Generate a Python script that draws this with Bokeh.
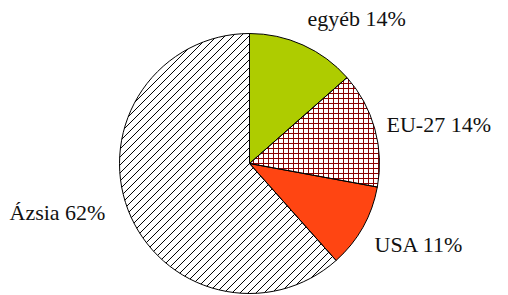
import math
from bokeh.plotting import figure
from bokeh.models import Range1d, Label
from bokeh.embed import file_html
from bokeh.resources import INLINE

# data (clockwise from 12 o'clock)
categories = ["egyéb", "EU-27", "USA", "Ázsia"]
shares = [13.5, 14.4, 10.5, 61.6]
labels = ["egyéb 14%", "EU-27 14%", "USA 11%", "Ázsia 62%"]

# styling
fills = ["#AECC00", "white", "#FF4512", "white"]
hatches = [" ", "+", " ", " "]
hatch_colors = ["black", "#8B0000", "black", "black"]
hatch_scales = [8, 5, 8, 8]
diag_index = 3          # slice drawn with 45-degree "/" hatching
diag_step = 8           # spacing of the diagonal hatch lines (px)

# layout (page pixel coordinates -> data: y up)
W, H = 508, 295
cx, cy, r = 249, H - 163, 130
label_x = [307, 386, 374, 9]
label_y = [H - 18, H - 124, H - 244, H - 212]

total = sum(shares)
starts, ends = [], []
cum = 0.0
for s in shares:
    a0 = math.pi / 2 - 2 * math.pi * cum / total
    cum += s
    a1 = math.pi / 2 - 2 * math.pi * cum / total
    starts.append(a0)
    ends.append(a1)

p = figure(width=W, height=H, output_backend="svg", toolbar_location=None,
           x_range=Range1d(0, W), y_range=Range1d(0, H), min_border=0)
p.axis.visible = False
p.grid.visible = False
p.outline_line_color = None
p.background_fill_color = "white"

# fills
for i in range(len(shares)):
    p.wedge(x=cx, y=cy, radius=r, start_angle=starts[i], end_angle=ends[i],
            direction="clock", fill_color=fills[i], line_color=None,
            hatch_pattern=hatches[i], hatch_color=hatch_colors[i],
            hatch_scale=hatch_scales[i], hatch_weight=1)

# 45-degree hatch for the large slice: chords of the circle minus the
# (convex) complementary sector made of the other slices
t1 = starts[diag_index]
t2 = ends[diag_index] + 2 * math.pi
d1 = (math.cos(t1), math.sin(t1))
d2 = (math.cos(t2), math.sin(t2))
x0s, y0s, x1s, y1s = [], [], [], []


def half(a, b):
    # interval of u with a*u + b >= 0
    if abs(a) < 1e-12:
        return (-1e9, 1e9) if b >= 0 else (1e9, -1e9)
    return (-b / a, 1e9) if a > 0 else (-1e9, -b / a)


kmax = int(math.sqrt(2) * r / diag_step) + 1
for j in range(-kmax, kmax + 1):
    k = j * diag_step
    disc = 2 * r * r - k * k
    if disc <= 0:
        continue
    ua = (-k - math.sqrt(disc)) / 2
    ub = (-k + math.sqrt(disc)) / 2
    h1 = half(d1[0] - d1[1], d1[0] * k)
    h2 = half(d2[1] - d2[0], -k * d2[0])
    lo = max(ua, h1[0], h2[0])
    hi = min(ub, h1[1], h2[1])
    pieces = [(ua, ub)] if lo >= hi else [(ua, lo), (hi, ub)]
    for (s0, s1) in pieces:
        if s1 - s0 > 0.5:
            x0s.append(cx + s0); y0s.append(cy + s0 + k)
            x1s.append(cx + s1); y1s.append(cy + s1 + k)
p.segment(x0=x0s, y0=y0s, x1=x1s, y1=y1s, line_color="black", line_width=1)

# outlines on top
for i in range(len(shares)):
    p.wedge(x=cx, y=cy, radius=r, start_angle=starts[i], end_angle=ends[i],
            direction="clock", fill_color=None, line_color="black", line_width=1)

for i in range(len(labels)):
    p.add_layout(Label(x=label_x[i], y=label_y[i], text=labels[i],
                       text_font="serif", text_font_size="22px",
                       text_align="left", text_baseline="alphabetic",
                       text_color="#111111"))

open("out.html", "w").write(file_html(p, INLINE))
